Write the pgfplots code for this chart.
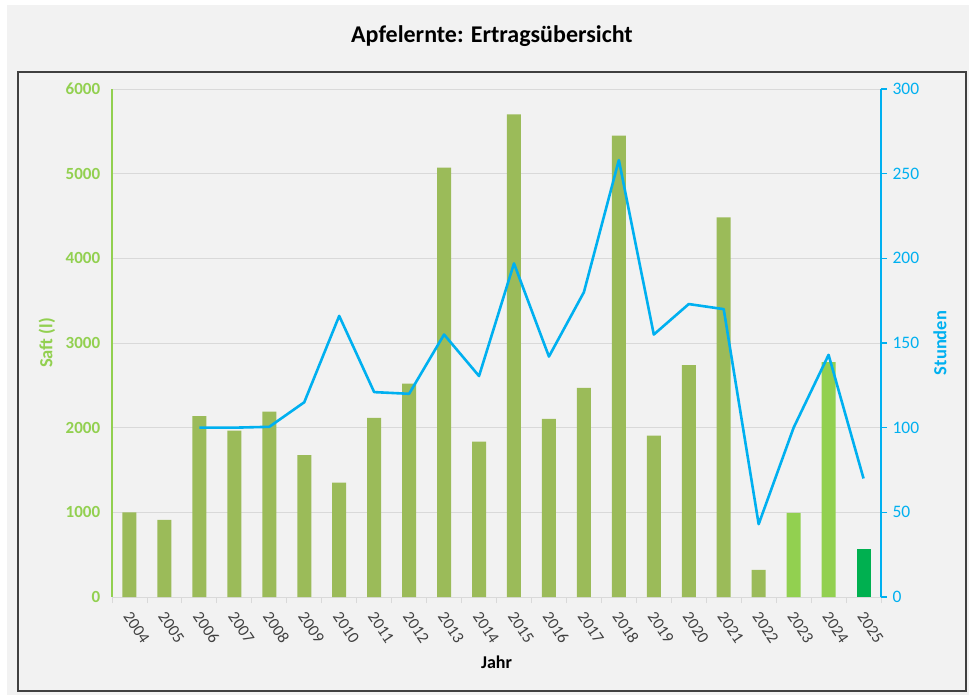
\documentclass[border=0pt]{standalone}
\usepackage{pgfplots}
\pgfplotsset{compat=1.18}
\usepackage{fontspec}
\setmainfont{Carlito}
\definecolor{bg}{HTML}{F2F2F2}
\definecolor{gridc}{HTML}{D9D9D9}
\definecolor{barA}{HTML}{9BBB59}
\definecolor{barB}{HTML}{92D050}
\definecolor{barC}{HTML}{00B050}
\definecolor{lineblue}{HTML}{00B0F0}
\definecolor{axgreen}{HTML}{92D050}
\definecolor{lblgray}{HTML}{404040}
\begin{document}
\begin{tikzpicture}
\fill[white] (0pt,0pt) rectangle (969pt,697pt);
\fill[bg] (7pt,2pt) rectangle (969pt,692pt);
\draw[black!75, line width=1.2pt] (18pt,6pt) rectangle (966pt,625pt);
\node[font=\fontsize{24}{28}\selectfont\bfseries, text=black] at (492pt,661pt) {Apfelernte: Ertragsübersicht};
\begin{axis}[
  at={(112pt,100pt)}, anchor=south west, scale only axis,
  width=769pt, height=508pt,
  xmin=-0.5, xmax=21.5, ymin=0, ymax=6000,
  axis x line*=bottom, axis y line*=left,
  ytick={0,1000,...,6000},
  ymajorgrids, grid style={color=gridc, line width=0.9pt},
  x axis line style={color=gridc, line width=0.9pt},
  y axis line style={color=axgreen, line width=1.6pt},
  ytick style={draw=none},
  xtick={0,...,21},
  xticklabels={2004,2005,2006,2007,2008,2009,2010,2011,2012,2013,2014,2015,2016,2017,2018,2019,2020,2021,2022,2023,2024,2025},
  major x tick style={draw=none},
  minor xtick={-0.5,0.5,...,21.5},
  minor x tick style={color=gridc, line width=0.9pt},
  minor tick length=6pt, tick align=outside,
  ybar, bar width=14pt,
  xticklabel style={yshift=-11pt, xshift=-3pt, rotate=-56, anchor=west, font=\fontsize{16.5}{20}\selectfont, text=lblgray, inner sep=1pt},
  yticklabel style={font=\fontsize{17}{20}\selectfont\bfseries, text=axgreen, xshift=-4pt},
  /pgf/number format/assume math mode=true,
  /pgf/number format/1000 sep={},
  xlabel={Jahr},
  xlabel style={at={(axis description cs:0.5,-0.128)}, anchor=center, font=\fontsize{18}{21}\selectfont\bfseries, text=black},
  ylabel={Saft (l)},
  ylabel style={at={(axis description cs:-0.0845,0.5)}, anchor=center, font=\fontsize{18.5}{21}\selectfont\bfseries, text=axgreen},
]
\addplot[fill=barA, draw=none, bar shift=0pt] coordinates {
(0,1000) (1,910) (2,2135) (3,1965) (4,2190) (5,1675) (6,1350) (7,2115) (8,2520) (9,5070)
(10,1835) (11,5700) (12,2105) (13,2470) (14,5450) (15,1905) (16,2740) (17,4485) (18,320)};
\addplot[fill=barB, draw=none, bar shift=0pt] coordinates {(19,995) (20,2775)};
\addplot[fill=barC, draw=none, bar shift=0pt] coordinates {(21,570)};
\end{axis}
\begin{axis}[
  at={(112pt,100pt)}, anchor=south west, scale only axis,
  width=769pt, height=508pt,
  xmin=-0.5, xmax=21.5, ymin=0, ymax=300,
  axis y line*=right, axis x line=none,
  ytick={0,50,...,300},
  y axis line style={color=lineblue, line width=1.6pt},
  ytick style={color=lineblue, line width=1.6pt},
  major tick length=6pt, tick align=outside,
  yticklabel style={font=\fontsize{17.5}{20}\selectfont, text=lineblue, xshift=2pt},
  /pgf/number format/assume math mode=true,
  ylabel={Stunden},
  ylabel style={at={(axis description cs:1.0767,0.5)}, anchor=center, font=\fontsize{18.5}{21}\selectfont\bfseries, text=lineblue},
]
\addplot[color=lineblue, line width=2.6pt, line join=round, mark=none] coordinates {
(2,100) (3,100) (4,100.5) (5,115) (6,166) (7,121) (8,120) (9,155) (10,130.5) (11,197)
(12,142) (13,180) (14,258) (15,155) (16,173) (17,170) (18,43) (19,100) (20,143) (21,70)};
\end{axis}
\end{tikzpicture}
\end{document}
